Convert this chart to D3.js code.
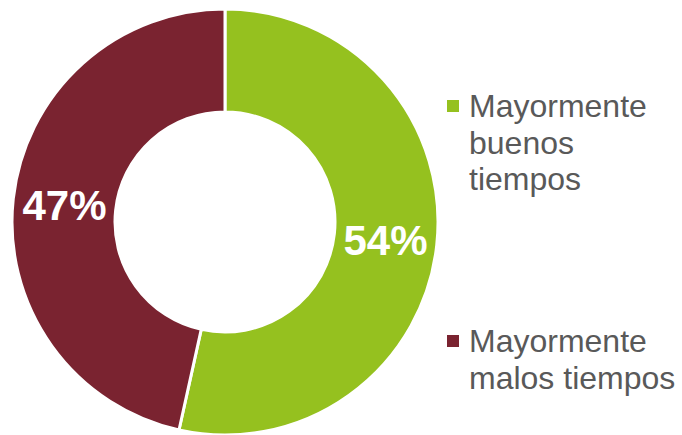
<!DOCTYPE html>
<html>
<head>
<meta charset="utf-8">
<script src="https://cdn.jsdelivr.net/npm/d3@7"></script>
<style>
  body { margin: 0; background: #fff; }
  svg { display: block; font-family: "Liberation Sans", Arial, sans-serif; }
</style>
</head>
<body>
<div id="chart"></div>
<script>
const categories = ['Mayormente buenos tiempos', 'Mayormente malos tiempos']
const values = [54, 47]
const labels = ['54%', '47%']
const legendLines = [['Mayormente', 'buenos', 'tiempos'], ['Mayormente', 'malos tiempos']]
const colors = ['#95c11f', '#7a2330']

const width = 682
const height = 435
const cx = 225, cy = 222
const outerR = 213, innerR = 110

const svg = d3.select('#chart').append('svg')
    .attr('width', width)
    .attr('height', height)

const color = d3.scaleOrdinal().domain(categories).range(colors)

const pie = d3.pie().sort(null).value(d => d.value)
const arcs = pie(categories.map((c, i) => ({ name: c, value: values[i], label: labels[i] })))
const arc = d3.arc().innerRadius(innerR).outerRadius(outerR)
const labelArc = d3.arc().innerRadius((innerR + outerR) / 2).outerRadius((innerR + outerR) / 2)

const g = svg.append('g').attr('transform', `translate(${cx}, ${cy})`)

g.selectAll('path')
    .data(arcs)
    .enter().append('path')
    .attr('d', arc)
    .attr('fill', d => color(d.data.name))
    .attr('stroke', '#fff')
    .attr('stroke-width', 3)

g.selectAll('text.pct')
    .data(arcs)
    .enter().append('text')
    .attr('class', 'pct')
    .attr('transform', d => `translate(${labelArc.centroid(d)})`)
    .attr('text-anchor', 'middle')
    .attr('dy', '0.36em')
    .attr('fill', '#fff')
    .attr('font-weight', 'bold')
    .attr('font-size', 42)
    .text(d => d.data.label)

// legend
const legendY = [117, 352]
const legend = svg.selectAll('g.legend')
    .data(categories)
    .enter().append('g')
    .attr('class', 'legend')
    .attr('transform', (d, i) => `translate(447, ${legendY[i]})`)

legend.append('rect')
    .attr('x', 0)
    .attr('y', -17)
    .attr('width', 12)
    .attr('height', 12)
    .attr('fill', d => color(d))

legend.append('text')
    .attr('x', 22)
    .attr('fill', '#595959')
    .attr('font-size', 32)
    .selectAll('tspan')
    .data((d, i) => legendLines[i])
    .enter().append('tspan')
    .attr('x', 22)
    .attr('dy', (d, i) => i === 0 ? 0 : 36.5)
    .text(d => d)
</script>
</body>
</html>
